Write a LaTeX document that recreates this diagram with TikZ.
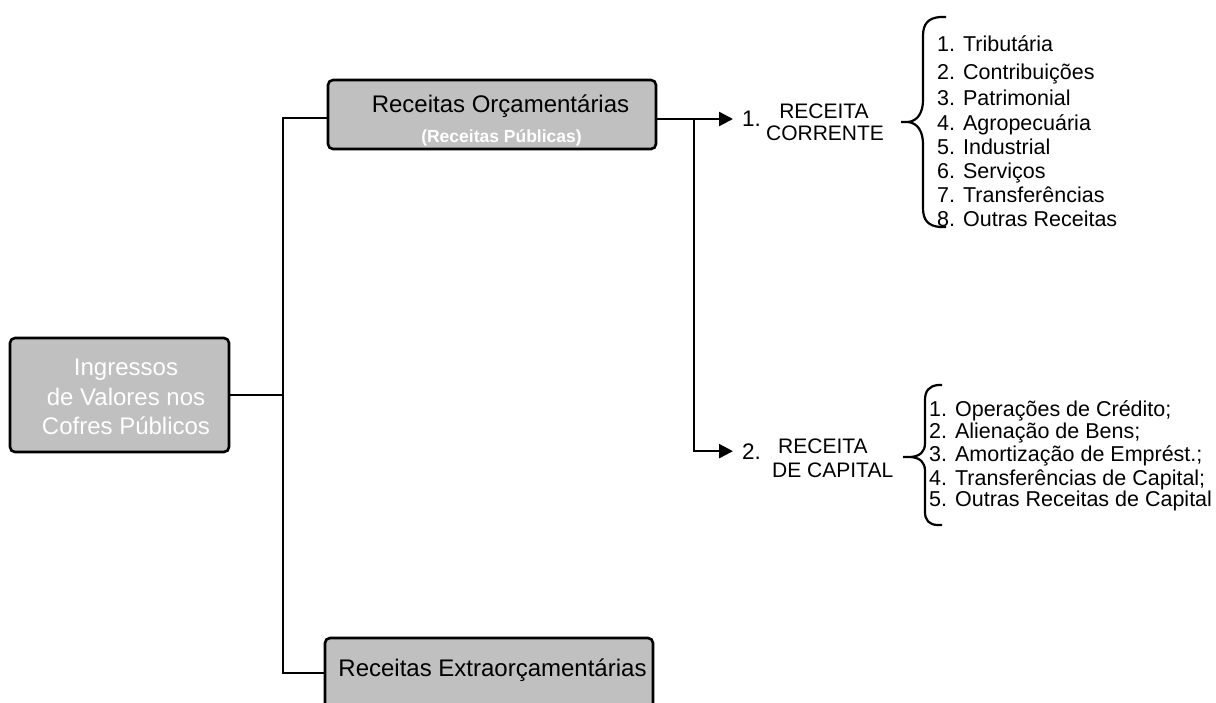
\documentclass[tikz,border=0pt]{standalone}
\usepackage{fontspec}
\setmainfont{Liberation Sans}
\usepackage{tikz}
\usetikzlibrary{calc, arrows.meta, positioning}
\definecolor{cinza}{HTML}{C0C0C0}

\begin{document}
\begin{tikzpicture}[x=1pt,y=-1pt,
    caixa/.style={draw=black,line width=2.6pt,fill=cinza,rounded corners=5pt,inner sep=0pt},
    liga/.style={line width=2.4pt},
    seta/.style={line width=2.4pt,-{Triangle[length=14pt,width=14pt]}},
    chave/.style={line width=2.2pt},
    rot/.style={anchor=base,inner sep=0pt,font=\fontsize{21}{24}\selectfont},
    item/.style={anchor=base west,inner sep=0pt,font=\fontsize{21.5}{26}\selectfont}]
        \useasboundingbox (0,0) rectangle (1216,702);
        \clip (0,0) rectangle (1216,702);
        % caixas
        \node[caixa, minimum width=219pt, minimum height=114pt] (ing) at (119.5,395) {};
        \node[align=center, text=white, inner sep=0pt, font=\fontsize{24}{29.5}\selectfont] (ingtxt) at (126,397) {Ingressos\\de Valores nos\\Cofres Públicos};
        \node[caixa, minimum width=328pt, minimum height=69pt] (orc) at (492,114.5) {};
        \node[anchor=base, inner sep=0pt, font=\fontsize{24}{28}\selectfont] (orctit) at (500.5,112) {Receitas Orçamentárias};
        \node[anchor=base, inner sep=0pt, text=white, font=\bfseries\fontsize{17.5}{20}\selectfont] (orcsub) at (501.5,142) {(Receitas Públicas)};
        \node[caixa, minimum width=328pt, minimum height=70pt] (ext) at (489,673) {};
        \node[anchor=base, inner sep=0pt, font=\fontsize{24}{28}\selectfont] (exttxt) at (492.5,676) {Receitas Extraorçamentárias};
        % ligacoes
        \coordinate (tronco) at (283,118);
        \draw[liga] (ing.east) -- (ing.east -| tronco);
        \draw[liga] (orc.west |- tronco) -- (tronco) |- (ext.west);
        \node[anchor=base west, inner xsep=9pt, inner ysep=0pt, font=\fontsize{22.5}{26}\selectfont] (n1) at (733,126) {1.};
        \node[anchor=base west, inner xsep=9pt, inner ysep=0pt, font=\fontsize{22.5}{26}\selectfont] (n2) at (733,459) {2.};
        \coordinate (ramo) at (694,119);
        \draw[liga] (orc.east |- ramo) -- (ramo);
        \draw[seta] (ramo) -- (ramo -| n1.west);
        \draw[seta] (ramo) |- (n2.west);
        \node[rot] (rc1) at (824,118) {RECEITA};
        \node[rot] (rc2) at (825,140) {CORRENTE};
        \node[rot, anchor=base west] (rk1) at (778,453) {RECEITA};
        \node[rot, anchor=base west] (rk2) at (772,477) {DE CAPITAL};
        % chaves
        \draw[chave] (946,17) -- (940,17) .. controls (928,18) and (923,24) .. (923,36) -- (923,100)
            .. controls (923,112) and (918,121) .. (908,122) -- (901,122);
        \draw[chave] (908,122) .. controls (918,123) and (923,132) .. (923,144) -- (923,208)
            .. controls (923,220) and (928,226) .. (940,227) -- (946,227);
        \draw[chave] (942,385) -- (938,385) .. controls (929,386) and (925,391) .. (925,400) -- (925,443)
            .. controls (925,452) and (920,456) .. (911,457) -- (903,457);
        \draw[chave] (911,457) .. controls (920,458) and (925,462) .. (925,471) -- (925,512)
            .. controls (925,520) and (929,525) .. (938,525) -- (942,525);
        % listas
        \foreach \y/\t [count=\i] in {51/1. Tributária, 79/2. Contribuições, 105/3. Patrimonial,
                130/4. Agropecuária, 154/5. Industrial, 178/6. Serviços, 202/7. Transferências,
                226/8. Outras Receitas}
            \node[item] (cor\i) at (937,\y) {\t};
        \foreach \y/\t [count=\i] in {416/1. Operações de Crédito;, 438/2. Alienação de Bens;,
                461/3. Amortização de Emprést.;, 485/4. Transferências de Capital;,
                506/5. Outras Receitas de Capital}
            \node[item] (cap\i) at (929,\y) {\t};
\end{tikzpicture}
\end{document}
